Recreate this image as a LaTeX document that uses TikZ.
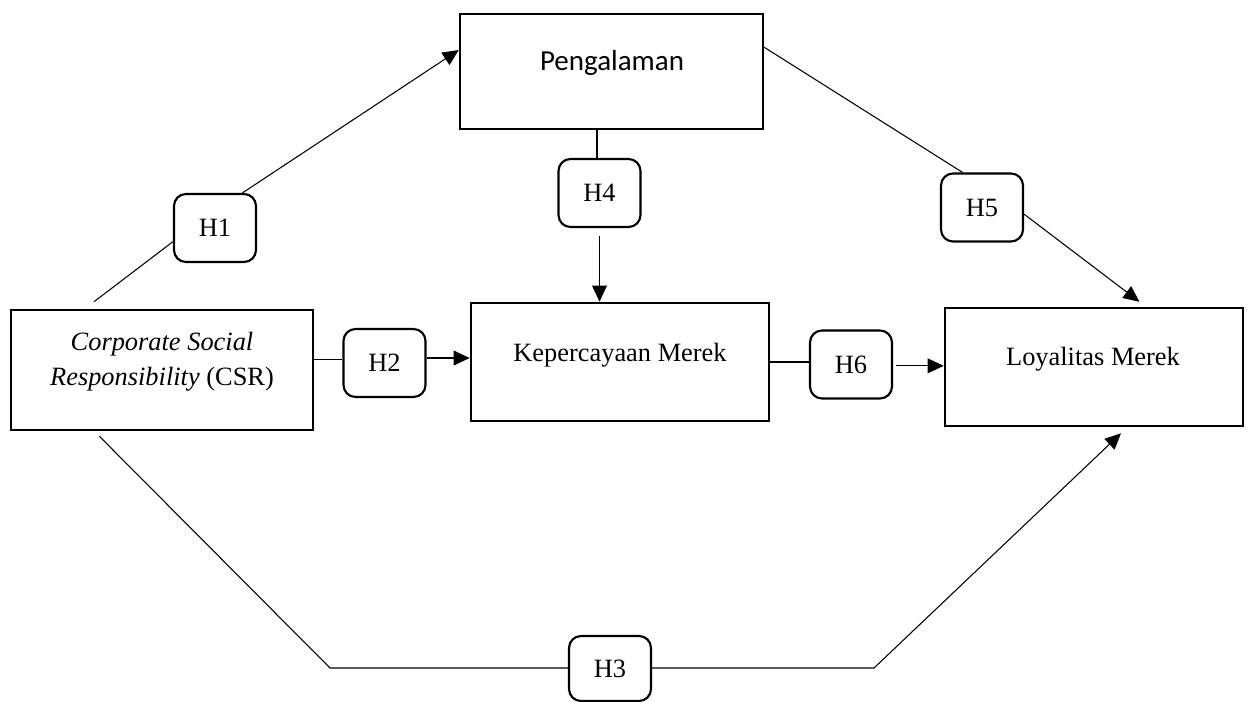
\documentclass[tikz,border=0pt]{standalone}
\usepackage{fontspec}
\setmainfont{Liberation Serif}
\newfontfamily\carlito{Carlito}
\usetikzlibrary{arrows.meta}
\begin{document}
\begin{tikzpicture}[x=0.75pt,y=-0.75pt,
  varbox/.style={draw, line width=1.9pt, inner sep=0pt},
  hypbox/.style={draw, line width=1.6pt, rounded corners=9pt, minimum width=61.5pt,
    minimum height=51pt, inner sep=0pt, font=\fontsize{19.8}{24}\selectfont},
  link/.style={line width=0.8pt},
  arr/.style={link, -{Triangle[length=12pt,width=11pt]}},
  lbl/.style={font=\fontsize{19.8}{26.25}\selectfont, inner sep=0pt}
]
\useasboundingbox (0,0) rectangle (1251,702);

% variable boxes
\node[varbox, minimum width=226.5pt,  minimum height=90pt]   (csr) at (162,370)    {};
\node[varbox, minimum width=227.25pt, minimum height=86.25pt] (pen) at (611.5,71.5) {};
\node[varbox, minimum width=223.5pt,  minimum height=88.5pt] (kep) at (620,362)    {};
\node[varbox, minimum width=223.5pt,  minimum height=88.5pt] (loy) at (1094,367)   {};

% variable names
\node[lbl, align=center] (csr-t) at (162,362)
  {\textit{Corporate Social}\\\textit{Responsibility} (CSR)};
\node[lbl, anchor=base] (pen-t) at (612,71)
  {\carlito\fontsize{21.75}{26}\selectfont Pengalaman};
\node[lbl, anchor=base] (kep-t) at (620,361) {Kepercayaan Merek};
\node[lbl, anchor=base] (loy-t) at (1093,365) {Loyalitas Merek};

% hypothesis boxes
\node[hypbox] (h1) at (215,228)   {H1};
\node[hypbox] (h2) at (384.5,363) {H2};
\node[hypbox] (h4) at (599.5,193) {H4};
\node[hypbox] (h5) at (982,207.5) {H5};
\node[hypbox] (h6) at (851,364.5) {H6};
\node[hypbox, minimum height=48.75pt] (h3) at (610,668.5) {H3};

% bends of the lower path
\coordinate (b1) at (330,668);
\coordinate (b2) at (874,668);

% H1: CSR -> Pengalaman
\draw[link] ([xshift=-51pt, yshift=5.25pt]csr.north) -- (h1.198);
\draw[arr] (h1.52) -- (pen.172.7);

% H2: CSR -> Kepercayaan Merek
\draw[link] (csr.4) -- (csr.4 -| h2.west);
\draw[arr] ([yshift=3.75pt]h2.east) -- ([yshift=3.75pt]h2.east -| kep.west);

% H4: Pengalaman -> Kepercayaan Merek
\draw[link] ([xshift=-1.9pt]h4.north) -- ([xshift=-1.9pt]h4.north |- pen.south);
\draw[arr] ([yshift=-6pt]h4.south) -- (h4.south |- kep.north);

% H5: Pengalaman -> Loyalitas Merek
\draw[link] (pen.9.2) -- (h5.119.25);
\draw[arr] (h5.-9.9) -- ([yshift=3.75pt]loy.53);

% H6: Kepercayaan Merek -> Loyalitas Merek
\draw[link] (kep.east) -- (kep.east -| h6.west);
\draw[arr] ([xshift=2pt, yshift=-1pt]h6.east) -- ([yshift=-1pt]h6.east -| loy.west);

% H3: CSR -> Loyalitas Merek
\draw[link] ([xshift=-47pt, yshift=-3.75pt]csr.south) -- (b1) -- (b1 -| h3.west);
\draw[arr] (h3.east |- b2) -- (b2) -- ([xshift=20.25pt, yshift=-4.5pt]loy.south);
\end{tikzpicture}
\end{document}
